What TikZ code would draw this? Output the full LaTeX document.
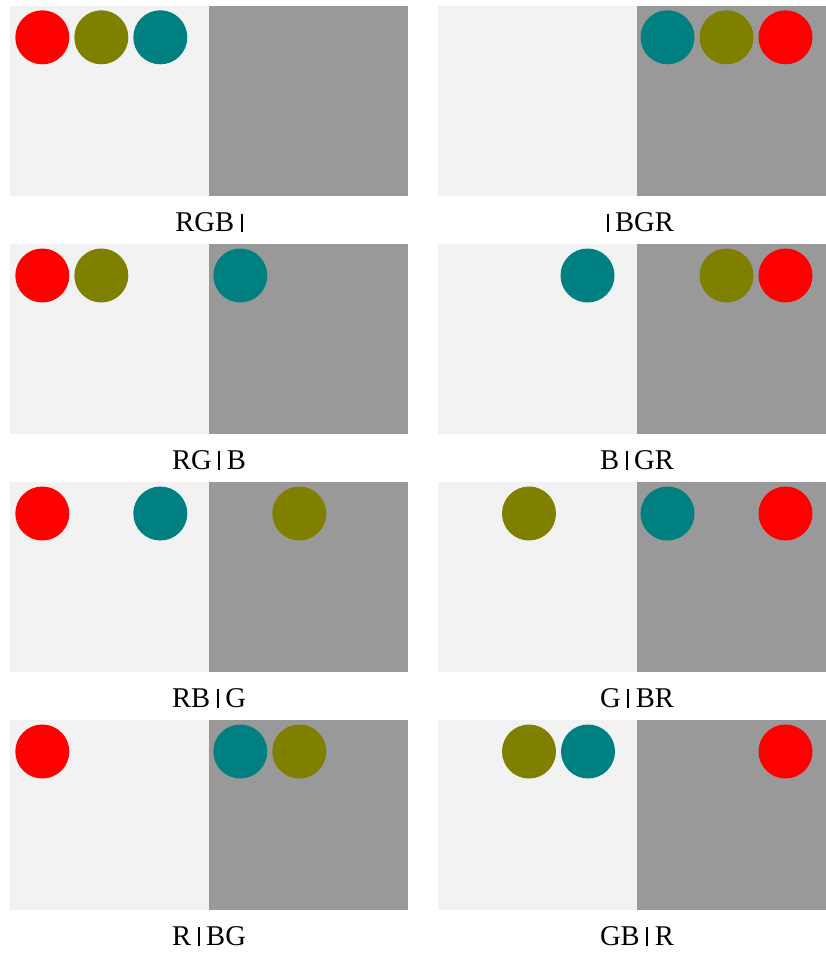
\documentclass[tikz,border=0pt]{standalone}
\usepackage{fontspec}
\setmainfont{Liberation Serif}
\definecolor{lightbg}{HTML}{F2F2F2}
\definecolor{darkbg}{HTML}{999999}
\definecolor{cred}{HTML}{FF0000}
\definecolor{colive}{HTML}{808000}
\definecolor{cteal}{HTML}{008080}
\newcommand\sepbar{\hspace{6.6pt}\rule{1.9pt}{18.2pt}\hspace{6.6pt}}
\tikzset{
  ball/.style={circle, inner sep=0pt, minimum size=54pt},
  lbl/.style={anchor=base, inner sep=0pt, font=\fontsize{28.6}{30}\selectfont},
}
\begin{document}
\begin{tikzpicture}[x=1pt,y=-1pt]
\useasboundingbox (0,0) rectangle (826,953);
\fill[white] (0,0) rectangle (826,953);
% panels
\foreach \k in {0,1,2,3}{
  \pgfmathsetmacro{\top}{6+238*\k}
  \pgfmathsetmacro{\bot}{196+238*\k}
  \fill[lightbg] (10,\top) rectangle (209,\bot);
  \fill[darkbg] (209,\top) rectangle (408,\bot);
  \fill[lightbg] (438,\top) rectangle (637,\bot);
  \fill[darkbg] (637,\top) rectangle (826,\bot);
}
% row 1
\node[ball, fill=cred] (r1a) at (42.3,37.3) {};
\node[ball, fill=colive] (r1b) at (101.3,37.3) {};
\node[ball, fill=cteal] (r1c) at (160.3,37.3) {};
\node[ball, fill=cteal] (r1d) at (667.5,37.3) {};
\node[ball, fill=colive] (r1e) at (726.5,37.3) {};
\node[ball, fill=cred] (r1f) at (785.5,37.3) {};
\node[lbl] (l1a) at (209,231.7) {RGB\sepbar};
\node[lbl] (l1b) at (637,231.7) {\sepbar BGR};
% row 2
\node[ball, fill=cred] (r2a) at (42.3,275.5) {};
\node[ball, fill=colive] (r2b) at (101.3,275.5) {};
\node[ball, fill=cteal] (r2c) at (240.3,275.5) {};
\node[ball, fill=cteal] (r2d) at (587.5,275.5) {};
\node[ball, fill=colive] (r2e) at (726.5,275.5) {};
\node[ball, fill=cred] (r2f) at (785.5,275.5) {};
\node[lbl] (l2a) at (209,469.5) {RG\sepbar B};
\node[lbl] (l2b) at (637,469.5) {B\sepbar GR};
% row 3
\node[ball, fill=cred] (r3a) at (42.3,513.5) {};
\node[ball, fill=cteal] (r3b) at (160.3,513.5) {};
\node[ball, fill=colive] (r3c) at (299.3,513.5) {};
\node[ball, fill=colive] (r3d) at (529,513.5) {};
\node[ball, fill=cteal] (r3e) at (667.5,513.5) {};
\node[ball, fill=cred] (r3f) at (785.5,513.5) {};
\node[lbl] (l3a) at (209,707.5) {RB\sepbar G};
\node[lbl] (l3b) at (637,707.5) {G\sepbar BR};
% row 4
\node[ball, fill=cred] (r4a) at (42.3,751.5) {};
\node[ball, fill=cteal] (r4b) at (240.3,751.5) {};
\node[ball, fill=colive] (r4c) at (299.3,751.5) {};
\node[ball, fill=colive] (r4d) at (529,751.5) {};
\node[ball, fill=cteal] (r4e) at (588,751.5) {};
\node[ball, fill=cred] (r4f) at (785.5,751.5) {};
\node[lbl] (l4a) at (209,945.5) {R\sepbar BG};
\node[lbl] (l4b) at (637,945.5) {GB\sepbar R};
\end{tikzpicture}
\end{document}
